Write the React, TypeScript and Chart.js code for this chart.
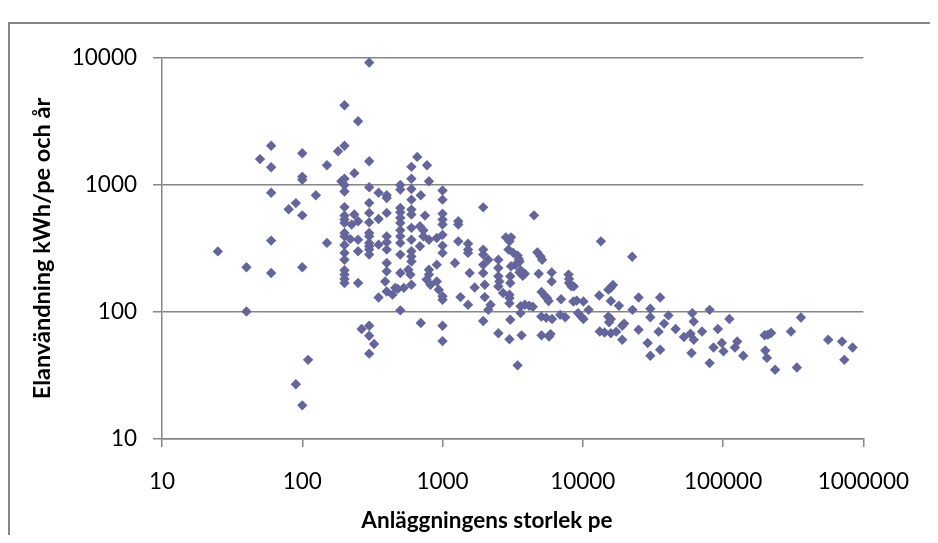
import React, { useEffect, useRef } from 'react';
import { Chart, registerables } from 'chart.js';

Chart.register(...registerables);

// Plant size (pe) for each point
const peValues: number[] = [
  25, 40, 40, 50, 60, 60, 60, 60, 60, 80,
  90, 90, 100, 100, 100, 100, 100, 100, 110, 125,
  150, 150, 180, 200, 200, 190, 200, 200, 200, 200,
  200, 200, 200, 200, 200, 200, 200, 200, 200, 200,
  200, 200, 225, 220, 235, 235, 250, 250, 250, 250,
  250, 265, 300, 300, 300, 300, 300, 300, 300, 300,
  300, 300, 300, 300, 300, 300, 300, 325, 350, 350,
  350, 350, 400, 400, 400, 400, 400, 400, 400, 400,
  390, 400, 440, 460, 500, 500, 500, 500, 500, 500,
  500, 500, 500, 500, 500, 530, 480, 500, 570, 590,
  600, 600, 600, 600, 600, 600, 600, 600, 600, 600,
  600, 600, 660, 690, 690, 700, 700, 730, 730, 750,
  775, 800, 800, 800, 800, 770, 820, 910, 910, 910,
  940, 1000, 1000, 1000, 1000, 1000, 1000, 1000, 1000, 1000,
  1000, 1000, 1000, 1225, 1295, 1295, 1295, 1343, 1520, 1520,
  1520, 1560, 1520, 1695, 1950, 1950, 1950, 2120, 1950, 1950,
  2000, 2000, 2200, 2120, 1950, 2500, 2500, 2500, 2540, 2500,
  2700, 2500, 2830, 3080, 2950, 3000, 3200, 3040, 3040, 3000,
  3000, 3000, 3040, 3000, 3430, 3500, 3300, 3080, 3600, 3860,
  3730, 3540, 3540, 3600, 3860, 4400, 4150, 3600, 3660, 3430,
  4490, 4740, 5000, 5130, 4850, 5080, 5360, 5560, 5700, 6000,
  6000, 5060, 5480, 6040, 5080, 5890, 5750, 6900, 7500, 7000,
  7920, 7980, 7980, 8300, 8630, 8570, 9040, 10100, 9250, 9750,
  10100, 11000, 13460, 13100, 15200, 16400, 15850, 15850, 18100, 13200,
  14300, 15850, 17300, 19100, 19700, 19100, 15200, 15850, 15400, 22500,
  22600, 25000, 30300, 30300, 35600, 40800, 38000, 34700, 35600, 30300,
  29000, 25000, 60300, 61800, 80200, 91800, 110900, 98000, 85500, 100700,
  126200, 121600, 139300, 80200, 59600, 52600, 58600, 61800, 70800, 45900,
  198000, 209000, 220000, 200000, 205600, 235000, 305000, 359000, 336000, 562000,
  705000, 839000, 732000,
];

// Electricity use (kWh/pe and year) for each point
const kwhValues: number[] = [
  300, 225, 101, 1600, 2040, 1380, 870, 365, 203, 645,
  720, 27, 1780, 1160, 1100, 577, 225, 18.4, 42, 830,
  1430, 350, 1845, 4250, 2040, 1070, 1120, 1000, 890, 670,
  574, 534, 503, 419, 394, 337, 292, 258, 213, 197,
  182, 169, 488, 375, 1240, 585, 3180, 518, 371, 301,
  169, 73.5, 9200, 1540, 960, 723, 603, 508, 419, 394,
  350, 329, 310, 283, 78, 65, 47, 56, 870, 540,
  339, 130, 830, 790, 603, 394, 354, 310, 243, 209,
  174, 145, 137, 155, 1000, 920, 660, 610, 551, 503,
  440, 394, 350, 283, 203, 155, 152, 103, 215, 197,
  1390, 1120, 931, 767, 640, 585, 460, 371, 301, 274,
  250, 164, 1665, 473, 329, 830, 82, 440, 394, 574,
  1430, 1070, 371, 215, 197, 180, 164, 383, 236, 174,
  150, 904, 767, 595, 534, 488, 405, 333, 292, 133,
  125, 78, 59, 243, 518, 488, 360, 131, 345, 310,
  292, 203, 114, 156, 667, 310, 283, 258, 235, 203,
  164, 131, 114, 104, 85, 258, 222, 191, 174, 159,
  141, 68, 387, 387, 310, 360, 292, 191, 169, 137,
  129, 117, 87, 61, 278, 262, 235, 229, 213, 200,
  193, 250, 205, 111, 114, 110, 112, 98, 65.5, 38,
  577, 295, 274, 258, 200, 144, 134, 129, 122, 205,
  174, 92, 90, 88, 65.5, 67, 64, 95, 91, 126,
  197, 182, 169, 159, 159, 121, 123, 121, 98, 92,
  88, 104, 360, 135, 150, 163, 155, 122, 112, 70.3,
  69, 68, 70, 78, 81, 60.5, 92, 88, 83, 272,
  104, 130, 106, 91, 130, 94, 81, 70, 50.5, 45.3,
  57, 72.5, 98, 84, 104, 73.5, 88, 57, 52.6, 49,
  58.6, 52.6, 45.3, 39.6, 47.5, 63.5, 67.5, 60.5, 70.3, 73.5,
  65.6, 66.3, 68.3, 49.8, 43.5, 35.1, 70.3, 90.6, 36.6, 60.5,
  58.6, 52.6, 42,
];

const xTickValues: number[] = [10, 100, 1000, 10000, 100000, 1000000];
const yTickValues: number[] = [10, 100, 1000, 10000];

const xTitle = 'Anläggningens storlek pe';
const yTitle = 'Elanvändning kWh/pe och år';

const FONT = 'Lato';
const AXIS_COLOR = '#868686';
const MARKER_COLOR = '#64669B';

const xTitlePlugin = {
  id: 'xTitleCentered',
  afterDraw(chart: any) {
    const ctx = chart.ctx;
    ctx.save();
    ctx.font = `bold 22.5px ${FONT}`;
    ctx.fillStyle = '#000';
    ctx.textAlign = 'center';
    ctx.textBaseline = 'middle';
    ctx.fillText(xTitle, 479, 513);
    ctx.restore();
  },
};

export default function App() {
  const canvasRef = useRef<HTMLCanvasElement | null>(null);

  useEffect(() => {
    if (!canvasRef.current) return;
    const points = peValues.map((x, i) => ({ x, y: kwhValues[i] }));
    const chart = new Chart(canvasRef.current, {
      type: 'scatter',
      data: {
        datasets: [
          {
            label: 'Elanvändning',
            data: points,
            pointStyle: 'rectRot',
            pointRadius: 5.2,
            pointBorderWidth: 0,
            backgroundColor: MARKER_COLOR,
            borderColor: MARKER_COLOR,
          },
        ],
      },
      options: {
        animation: false,
        responsive: false,
        devicePixelRatio: 1,
        layout: { padding: { left: 0, right: 59, top: 50, bottom: 0 } },
        plugins: {
          legend: { display: false },
          tooltip: { enabled: false },
        },
        scales: {
          x: {
            type: 'logarithmic',
            position: 'bottom',
            min: 10,
            max: 1000000,
            afterBuildTicks: (s: any) => {
              s.ticks = xTickValues.map((v) => ({ value: v }));
            },
            afterFit: (s: any) => {
              s.height = 96;
            },
            ticks: {
              callback: (v: any) => String(v),
              font: { family: FONT, size: 22.5 },
              color: '#000',
              padding: 21,
              maxRotation: 0,
              autoSkip: false,
            },
            grid: {
              drawOnChartArea: false,
              drawTicks: true,
              tickLength: 8,
              color: AXIS_COLOR,
              lineWidth: 1.5,
            },
            border: { display: true, color: AXIS_COLOR, width: 1.5 },
          },
          y: {
            type: 'logarithmic',
            min: 10,
            max: 10000,
            afterBuildTicks: (s: any) => {
              s.ticks = yTickValues.map((v) => ({ value: v }));
            },
            afterFit: (s: any) => {
              s.width = 154;
            },
            ticks: {
              callback: (v: any) => String(v),
              font: { family: FONT, size: 22.5 },
              color: '#000',
              padding: 16,
              autoSkip: false,
            },
            grid: {
              drawOnChartArea: true,
              drawTicks: true,
              tickLength: 9,
              color: AXIS_COLOR,
              lineWidth: 1.5,
            },
            border: { display: true, color: AXIS_COLOR, width: 1.5 },
            title: {
              display: true,
              text: yTitle,
              font: { family: FONT, size: 23.5, weight: 'bold' },
              color: '#000',
              padding: { top: 20, bottom: 0 },
            },
          },
        },
      },
      plugins: [xTitlePlugin],
    });
    return () => chart.destroy();
  }, []);

  return (
    <div style={{ position: 'relative', width: 922, height: 527, overflow: 'hidden', background: '#fff' }}>
      <div
        style={{
          position: 'absolute',
          left: 0,
          top: 14,
          width: 1000,
          height: 1000,
          border: `2px solid ${AXIS_COLOR}`,
          boxSizing: 'border-box',
        }}
      />
      <canvas
        ref={canvasRef}
        width={922}
        height={527}
        style={{ position: 'absolute', left: 0, top: 0, display: 'block' }}
      />
    </div>
  );
}
